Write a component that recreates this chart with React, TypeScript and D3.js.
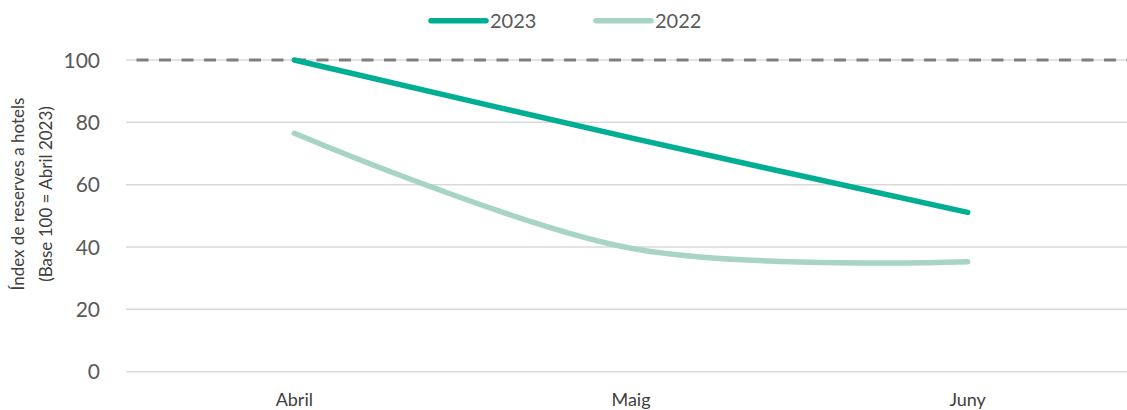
import React from "react";
import * as d3 from "d3";

const categories = ["Abril", "Maig", "Juny"];
const series2023 = [100, 75, 51.1];
const series2022 = [76.5, 39.6, 35.3];
const yTicks = [0, 20, 40, 60, 80, 100];
const referenceValue = 100;
const legendItems = [
  { label: "2023", color: "#00AE94" },
  { label: "2022", color: "#A8D4C3" },
];

const W = 1127;
const H = 410;
const FONT = "Lato, 'Open Sans', sans-serif";

export default function App() {
  const x = d3.scaleBand<string>().domain(categories).range([126, 1136]);
  const y = d3.scaleLinear().domain([0, 100]).range([371.7, 60]);
  const cx = (c: string) => (x(c) as number) + x.bandwidth() / 2;

  const line = d3
    .line<number>()
    .x((_, i) => cx(categories[i]))
    .y((d) => y(d))
    .curve(d3.curveCatmullRom.alpha(0.5));

  return (
    <svg
      width={W}
      height={H}
      style={{ position: "absolute", left: 0, top: 0, background: "#fff" }}
      fontFamily={FONT}
    >
      {yTicks.map((t) => (
        <g key={t}>
          <line x1={126} x2={W} y1={y(t)} y2={y(t)} stroke="#d9d9d9" strokeWidth={1.5} />
          <text x={100} y={y(t)} dy="0.36em" textAnchor="end" fontSize={21} fill="#595959">
            {t}
          </text>
        </g>
      ))}
      <line
        x1={126}
        x2={W}
        y1={y(referenceValue)}
        y2={y(referenceValue)}
        stroke="#7f7f7f"
        strokeWidth={3}
        strokeDasharray="12 10.5"
        strokeDashoffset={12}
      />
      {categories.map((c) => (
        <text key={c} x={cx(c)} y={406} textAnchor="middle" fontSize={18} fill="#404040">
          {c}
        </text>
      ))}
      <path d={line(series2022) || ""} fill="none" stroke={legendItems[1].color} strokeWidth={5.5} strokeLinecap="round" />
      <path d={line(series2023) || ""} fill="none" stroke={legendItems[0].color} strokeWidth={5.5} strokeLinecap="round" />
      <text transform="translate(24,194) rotate(-90)" textAnchor="middle" fontSize={17} fill="#404040">
        Índex de reserves a hotels
      </text>
      <text transform="translate(52,194) rotate(-90)" textAnchor="middle" fontSize={17} fill="#404040">
        (Base 100 = Abril 2023)
      </text>
      {legendItems.map((l, i) => {
        const x0 = i === 0 ? 431 : 596;
        return (
          <g key={l.label}>
            <line x1={x0} x2={x0 + 55} y1={20.7} y2={20.7} stroke={l.color} strokeWidth={5.5} strokeLinecap="round" />
            <text x={x0 + 59} y={20.7} dy="0.36em" fontSize={20} fill="#595959">
              {l.label}
            </text>
          </g>
        );
      })}
    </svg>
  );
}
